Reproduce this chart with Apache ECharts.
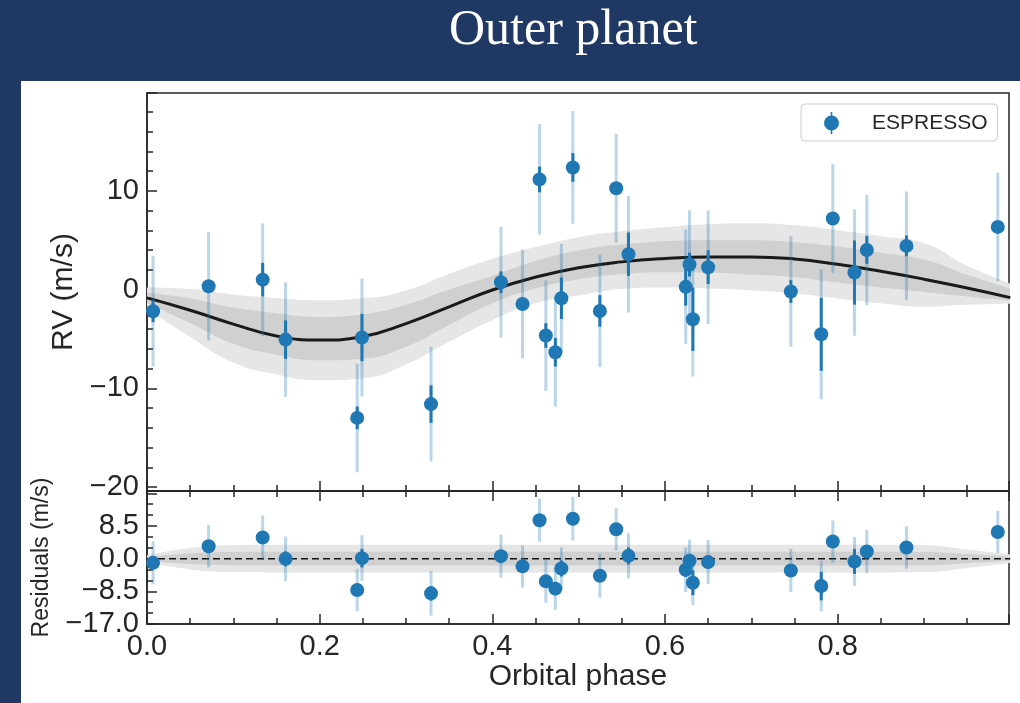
<!DOCTYPE html>
<html>
<head>
<meta charset="utf-8">
<title>Outer planet</title>
<script src="https://cdn.jsdelivr.net/npm/echarts@6/dist/echarts.min.js"></script>
<style>
  html, body { margin: 0; padding: 0; background: #1f3864; }
  #chart { width: 1020px; height: 703px; }
</style>
</head>
<body>
<div id="chart"></div>
<script>
// ESPRESSO RVs folded on the outer planet period
const phase = [0.007, 0.0714, 0.134, 0.1605, 0.2435, 0.249, 0.329, 0.41, 0.435, 0.4547, 0.462, 0.473, 0.480, 0.4933,
  0.5246, 0.5435, 0.5577, 0.624, 0.6284, 0.6323, 0.650, 0.7458, 0.781, 0.7944, 0.8195, 0.8338, 0.8797, 0.9855];
const rv = [-2.2, 0.33, 1.0, -5.07, -13.0, -4.86, -11.6, 0.74, -1.46, 11.15, -4.66, -6.35, -0.88, 12.36,
  -2.17, 10.26, 3.57, 0.27, 2.53, -3.01, 2.26, -0.2, -4.53, 7.19, 1.72, 4.01, 4.42, 6.34];
const resid = [-1.09, 3.24, 5.5, -0.05, -8.17, 0.13, -9.03, 0.65, -2.0, 9.99, -5.9, -7.8, -2.55, 10.4,
  -4.45, 7.65, 0.73, -2.9, -0.56, -6.27, -0.9, -3.07, -7.13, 4.45, -0.73, 1.87, 2.9, 6.95];
// light bars = error with jitter, dark bars = instrumental error
const errJit = [5.6, 5.5, 5.7, 5.8, 5.5, 5.97, 5.8, 5.6, 5.5, 5.6, 5.6, 5.5, 5.5, 5.7,
  5.7, 5.5, 5.9, 5.8, 5.5, 5.8, 5.75, 5.6, 6.6, 5.5, 6.4, 5.6, 5.5, 5.5];
const errRV = [1.1, 0.6, 1.7, 1.95, 1.15, 2.4, 1.9, 1.1, 0.6, 1.3, 1.25, 1.45, 2.1, 1.45,
  1.6, 0.6, 2.2, 1.9, 1.2, 3.2, 1.7, 1.15, 3.7, 0.6, 3.25, 1.4, 1.05, 0.6];

// median model and 1/2 sigma bands
const modelPhase = [0, 0.05, 0.1, 0.15, 0.2, 0.25, 0.3, 0.35, 0.4, 0.45, 0.5, 0.55, 0.6, 0.65, 0.7, 0.75, 0.8, 0.85, 0.9, 0.95, 1.0];
const modelRV = [-0.85, -2.1, -3.5, -4.7, -5.12, -4.75, -3.45, -1.75, -0.05, 1.25, 2.2, 2.8, 3.15, 3.3, 3.3, 3.1, 2.55, 1.85, 1.05, 0.15, -0.82];
const rv1Lo = [-1.4, -3.4, -5.5, -6.6, -7.16, -7.0, -5.8, -3.6, -1.4, 0.1, 1.05, 1.55, 1.75, 1.7, 1.5, 1.25, 0.7, 0.2, -0.25, -0.7, -1.1];
const rv1Hi = [-0.3, -0.9, -1.8, -2.4, -2.77, -2.5, -1.55, 0.0, 1.4, 2.9, 3.95, 4.55, 4.9, 5.0, 5.0, 4.8, 4.35, 3.7, 3.05, 1.5, 0.1];
const rv2Lo = [-1.95, -4.8, -7.4, -8.6, -9.19, -9.0, -7.6, -5.3, -3.1, -1.4, -0.6, 0.05, 0.2, 0.1, -0.1, -0.4, -0.9, -1.4, -1.75, -1.55, -1.45];
const rv2Hi = [0.2, 0.05, -0.5, -0.85, -1.08, -0.9, -0.1, 1.6, 3.1, 4.3, 5.3, 5.9, 6.3, 6.6, 6.7, 6.5, 6.0, 5.4, 4.7, 2.4, 0.6];
// residual bands (half widths around zero)
const res1Hw = [0.45, 1.4, 1.75, 1.8, 1.8, 1.8, 1.8, 1.8, 1.8, 1.8, 1.8, 1.8, 1.8, 1.8, 1.8, 1.8, 1.8, 1.8, 1.75, 1.2, 0.55];
const res2Hw = [0.9, 2.8, 3.5, 3.6, 3.6, 3.6, 3.6, 3.6, 3.6, 3.6, 3.6, 3.6, 3.6, 3.6, 3.6, 3.6, 3.6, 3.6, 3.5, 2.4, 1.1];

const FONT = "'Liberation Sans', Arial, sans-serif";
const INK = '#262626';
const BLUE = '#1f77b4';

const minus = s => String(s).replace('-', '\u2212');

// stacked pair: invisible lower edge + filled (hi - lo) on top of it.
// value goes in column 0 so that it is the dimension that gets stacked
function bandSeries(id, lo, hi, color, axisIdx, z) {
  const common = {
    type: 'line', stack: id, stackStrategy: 'all', smooth: true, showSymbol: false, silent: true,
    xAxisIndex: axisIdx, yAxisIndex: axisIdx, lineStyle: { opacity: 0 }, z,
    encode: { x: 1, y: 0 }
  };
  return [
    { ...common, name: id + 'lo', data: modelPhase.map((p, i) => [lo[i], p]) },
    { ...common, name: id + 'hi', data: modelPhase.map((p, i) => [hi[i] - lo[i], p]), areaStyle: { color, opacity: 1 } }
  ];
}

function errRender(params, api) {
  const x = api.value(0), y = api.value(1), eJ = api.value(2), eR = api.value(3);
  const a = api.coord([x, y + eJ]), b = api.coord([x, y - eJ]);
  const c = api.coord([x, y + eR]), d = api.coord([x, y - eR]);
  return {
    type: 'group',
    children: [
      { type: 'line', shape: { x1: a[0], y1: a[1], x2: b[0], y2: b[1] }, style: { stroke: 'rgba(31,119,180,0.3)', lineWidth: 3 } },
      { type: 'line', shape: { x1: c[0], y1: c[1], x2: d[0], y2: d[1] }, style: { stroke: BLUE, lineWidth: 3 } }
    ]
  };
}

const tickStyle = { color: INK, width: 1.5 };
function xAx(grid, extra) {
  return {
    gridIndex: grid, type: 'value', min: 0, max: 0.9985, interval: 0.2,
    axisLine: { show: true, onZero: false, lineStyle: tickStyle },
    axisTick: { show: true, inside: true, length: 10, lineStyle: tickStyle },
    minorTick: { show: true, splitNumber: 4, length: 6, lineStyle: tickStyle },
    splitLine: { show: false },
    axisLabel: { show: false },
    ...extra
  };
}

const legendIcon = 'path://M6.7,0 H8.3 V22 H6.7 Z M0,11 A7.5,7.5 0 1,1 15,11 A7.5,7.5 0 1,1 0,11 Z';

const chart = echarts.init(document.getElementById('chart'));
chart.setOption({
  animation: false,
  backgroundColor: '#1f3864',
  title: {
    text: 'Outer planet', left: 449, top: 6, padding: 0,
    textStyle: { color: '#fff', fontFamily: "'Liberation Serif', serif", fontSize: 50, fontWeight: 'normal' }
  },
  graphic: [{ type: 'rect', left: 21, top: 81, z: -10, shape: { width: 999, height: 622 }, style: { fill: '#fff' } }],
  legend: {
    data: [{ name: 'ESPRESSO', icon: legendIcon }],
    left: 801, top: 104, padding: [8, 10, 7, 23], itemWidth: 15, itemHeight: 22,
    selectedMode: false, borderColor: '#cccccc', borderWidth: 1, borderRadius: 4, backgroundColor: '#fff',
    textStyle: { fontFamily: FONT, fontSize: 21, color: INK, padding: [0, 0, 0, 28] }
  },
  grid: [
    { left: 147, top: 93, width: 862, height: 398, show: true, borderColor: INK, borderWidth: 1.5 },
    { left: 147, top: 491, width: 862, height: 133, show: true, borderColor: INK, borderWidth: 1.5 }
  ],
  xAxis: [
    xAx(0, {}),
    xAx(1, {
      axisLabel: {
        show: true, fontFamily: FONT, fontSize: 29, color: INK, margin: 8,
        formatter: v => (Math.abs(v * 5 - Math.round(v * 5)) < 1e-6 ? v.toFixed(1) : '')
      },
      name: 'Orbital phase', nameLocation: 'middle', nameGap: 36,
      nameTextStyle: { fontFamily: FONT, fontSize: 30, color: INK }
    }),
    xAx(1, { position: 'top' })
  ],
  yAxis: [
    {
      gridIndex: 0, type: 'value', min: -20.4, max: 19.9, splitNumber: 4,
      axisLine: { show: true, lineStyle: tickStyle },
      axisTick: { show: true, inside: true, length: 10, lineStyle: tickStyle },
      minorTick: { show: true, splitNumber: 5, length: 6, lineStyle: tickStyle },
      splitLine: { show: false },
      axisLabel: {
        fontFamily: FONT, fontSize: 29, color: INK, margin: 8,
        formatter: v => (Math.abs(v % 10) < 1e-6 ? minus(Math.round(v)) : '')
      },
      name: 'RV (m/s)', nameLocation: 'middle', nameGap: 67,
      nameTextStyle: { fontFamily: FONT, fontSize: 30, color: INK }
    },
    {
      gridIndex: 1, type: 'value', min: -17, max: 17.6, interval: 8.5,
      axisLine: { show: true, lineStyle: tickStyle },
      axisTick: { show: true, inside: true, length: 10, lineStyle: tickStyle },
      minorTick: { show: true, splitNumber: 3, length: 6, lineStyle: tickStyle },
      splitLine: { show: false },
      axisLabel: {
        fontFamily: FONT, fontSize: 29, color: INK, margin: 8,
        formatter: v => (v > 16 ? '' : minus(v.toFixed(1)))
      },
      name: 'Residuals (m/s)', nameLocation: 'middle', nameGap: 94,
      nameTextStyle: { fontFamily: FONT, fontSize: 23, color: INK }
    }
  ],
  series: [
    ...bandSeries('rv2', rv2Lo, rv2Hi, '#e6e6e6', 0, 1),
    ...bandSeries('rv1', rv1Lo, rv1Hi, '#d0d0d0', 0, 2),
    {
      type: 'line', name: 'model', xAxisIndex: 0, yAxisIndex: 0, smooth: true, showSymbol: false, silent: true, z: 3,
      data: modelPhase.map((p, i) => [p, modelRV[i]]),
      lineStyle: { color: '#1a1a1a', width: 3 }
    },
    {
      type: 'custom', name: 'rv err', xAxisIndex: 0, yAxisIndex: 0, z: 4, silent: true, clip: true,
      renderItem: errRender, encode: { x: 0, y: 1 },
      data: phase.map((p, i) => [p, rv[i], errJit[i], errRV[i]])
    },
    {
      type: 'scatter', name: 'ESPRESSO', xAxisIndex: 0, yAxisIndex: 0, z: 5, symbolSize: 14,
      itemStyle: { color: BLUE, opacity: 1 },
      data: phase.map((p, i) => [p, rv[i]])
    },
    ...bandSeries('res2', res2Hw.map(h => -h), res2Hw, '#e6e6e6', 1, 1),
    ...bandSeries('res1', res1Hw.map(h => -h), res1Hw, '#d0d0d0', 1, 2),
    {
      type: 'line', name: 'zero', xAxisIndex: 1, yAxisIndex: 1, showSymbol: false, silent: true, z: 3,
      data: [[0, 0], [1, 0]],
      lineStyle: { color: '#111', width: 1.5, type: [7, 4] }
    },
    {
      type: 'custom', name: 'res err', xAxisIndex: 1, yAxisIndex: 1, z: 4, silent: true, clip: true,
      renderItem: errRender, encode: { x: 0, y: 1 },
      data: phase.map((p, i) => [p, resid[i], errJit[i], errRV[i]])
    },
    {
      type: 'scatter', name: 'ESPRESSO residuals', xAxisIndex: 1, yAxisIndex: 1, z: 5, symbolSize: 14,
      itemStyle: { color: BLUE, opacity: 1 },
      data: phase.map((p, i) => [p, resid[i]])
    }
  ]
});
</script>
</body>
</html>
